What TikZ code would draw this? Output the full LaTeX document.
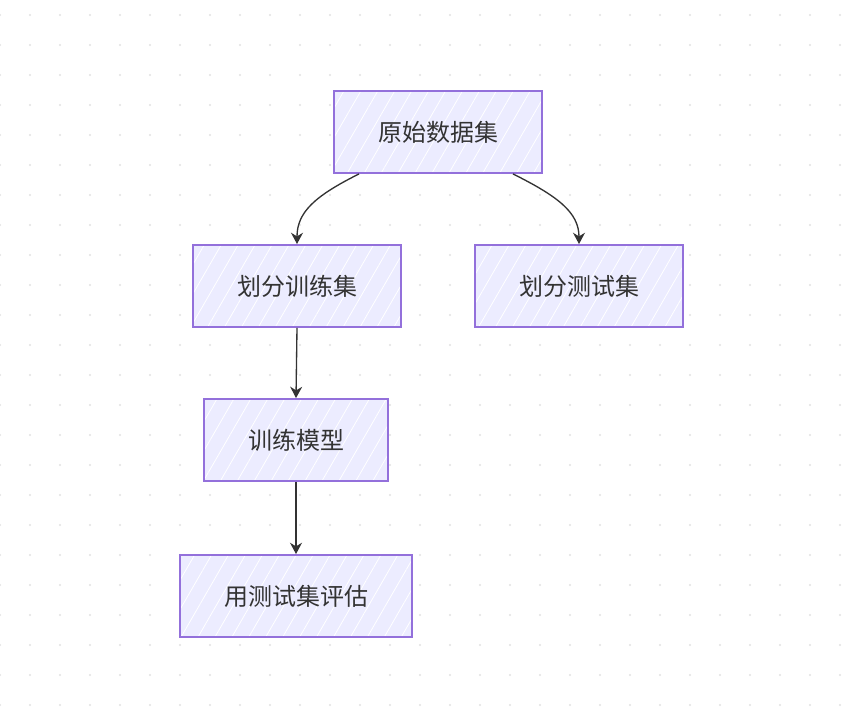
\documentclass[tikz,border=0pt]{standalone}
\usepackage{fontspec}
\usepackage{tikz}
\usetikzlibrary{arrows.meta,patterns.meta,calc}
\newfontfamily\cjk{Noto Sans CJK SC}
\definecolor{caja}{HTML}{ECECFF}
\definecolor{borde}{HTML}{9370DB}
\definecolor{tinta}{HTML}{333333}
\definecolor{punto}{HTML}{E2E2E2}

\tikzset{
  paso/.style={draw=borde, line width=1.4pt,
    preaction={fill=caja},
    preaction={pattern={Lines[angle=60,distance=11pt,line width=0.6pt]}, pattern color=white},
    inner xsep=33pt, minimum height=61.5pt, text=tinta,
    font=\cjk\fontsize{18}{20}\selectfont},
  flujo/.style={draw=tinta, line width=1pt, -{Stealth[length=8.5pt,width=9pt]}}
}

\begin{document}
\begin{tikzpicture}[x=0.75pt,y=-0.75pt]
  % Marco
  \useasboundingbox (0,0) rectangle (857,716);
  \fill[white] (0,0) rectangle (857,716);

  % Rejilla de puntos
  \foreach \x in {0,30,...,840}
    \foreach \y in {15,45,...,705}
      \fill[punto] (\x,\y) circle (0.9pt);

  % Nodos
  \node[paso] (raw)   at (438,132) {原始数据集};
  \node[paso] (train) at (297,286) {划分训练集};
  \node[paso] (test)  at (579,286) {划分测试集};
  \node[paso] (model) at (296,440) {训练模型};
  \node[paso] (eval)  at (296,596) {用测试集评估};

  % Flechas
  \draw[flujo] ($(raw.south)+(-79,0)$) .. controls +(-44,22) and +(0,-32) .. (train.north);
  \draw[flujo] ($(raw.south)+(75,0)$) .. controls +(44,22) and +(0,-32) .. (test.north);
  \draw[flujo] (train.south) -- (model.north);
  \draw[flujo] (model.south) -- (eval.north);
\end{tikzpicture}
\end{document}
